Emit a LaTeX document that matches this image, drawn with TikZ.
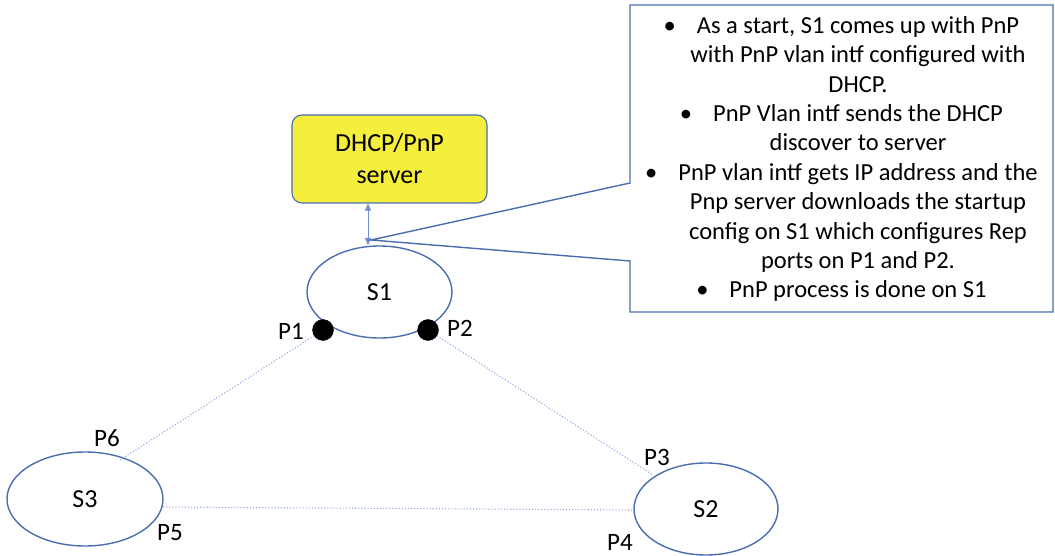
\documentclass[tikz,border=0pt]{standalone}
\usepackage{fontspec}
\setmainfont{Carlito}
\usetikzlibrary{arrows.meta,shapes.geometric}

\definecolor{edgeblue}{HTML}{4A6DB0}
\definecolor{linkblue}{HTML}{8FAADC}
\definecolor{arrowblue}{HTML}{6F8FD0}
\definecolor{serveryellow}{HTML}{F4EE3C}

\tikzset{
  switchnode/.style={draw=edgeblue, line width=1.4pt, ellipse, inner sep=0pt,
    font=\fontsize{26}{30}\selectfont},
  portdot/.style={circle, fill=black, draw=black, minimum size=21pt, inner sep=0pt},
  portlabel/.style={font=\fontsize{25}{30}\selectfont, inner sep=0pt},
  link/.style={draw=linkblue, line width=1.1pt, dotted},
  serverbox/.style={draw=edgeblue, line width=1.1pt, fill=serveryellow,
    rounded corners=10pt, align=center, font=\fontsize{26}{32}\selectfont},
  callout/.style={draw=edgeblue, line width=1.4pt},
  notes/.style={align=center, inner sep=0pt, font=\fontsize{24.5}{29.4}\selectfont},
}
\newcommand{\bul}{\llap{\textbullet\hspace{21pt}}}

\begin{document}
\begin{tikzpicture}[x=1pt, y=-1pt]
  \useasboundingbox (0,0) rectangle (1055,556);

  % server
  \node[serverbox, minimum width=195pt, minimum height=88pt] (srv) at (389.5,159)
    {DHCP/PnP\\server};

  % switches
  \node[switchnode, minimum width=145pt, minimum height=92pt] (s1) at (379.5,292) {S1};
  \node[switchnode, minimum width=156pt, minimum height=94pt] (s3) at (85,499) {S3};
  \node[switchnode, minimum width=144pt, minimum height=92pt] (s2) at (706,509) {S2};

  % REP ports on S1
  \node[portdot] (p1) at (323,330) {};
  \node[portdot] (p2) at (428,330) {};

  % attachment points on S2 and S3
  \coordinate (p6) at (120,460);
  \coordinate (p3) at (653,475);
  \coordinate (p5) at (163,507);
  \coordinate (p4) at (634,510);

  % ring links
  \draw[link] (p1) -- (p6);
  \draw[link] (p2) -- (p3);
  \draw[link] (p5) -- (p4);

  % port labels
  \node[portlabel] (lp1) at (291,331) {P1};
  \node[portlabel] (lp2) at (460,328) {P2};
  \node[portlabel] (lp6) at (107,438) {P6};
  \node[portlabel] (lp5) at (170,533) {P5};
  \node[portlabel] (lp3) at (657,457) {P3};
  \node[portlabel] (lp4) at (620,542) {P4};

  % DHCP exchange between S1 and server
  \coordinate (s1top) at (368,245);
  \draw[arrowblue, line width=0.9pt, {Triangle[width=6pt,length=7pt]}-{Triangle[width=6pt,length=7pt]}]
    (s1top) -- (srv.south -| s1top);

  % callout
  \coordinate (apex) at (371,240);
  \draw[callout] (630,5) -- (1053,5) -- (1053,312) -- (630,312) -- (630,261)
    -- (apex) -- (630,183) -- cycle;

  % the base anchor sits on the last line
  \node[notes, anchor=base] (steps) at (858,298) {%
    \bul As a start, S1 comes up with PnP\\
    with PnP vlan intf configured with\\
    DHCP.\\
    \bul PnP Vlan intf sends the DHCP\\
    discover to server\\
    \bul PnP vlan intf gets IP address and the\\
    Pnp server downloads the startup\\
    config on S1 which configures Rep\\
    ports on P1 and P2.\\
    \bul PnP process is done on S1};
\end{tikzpicture}
\end{document}
